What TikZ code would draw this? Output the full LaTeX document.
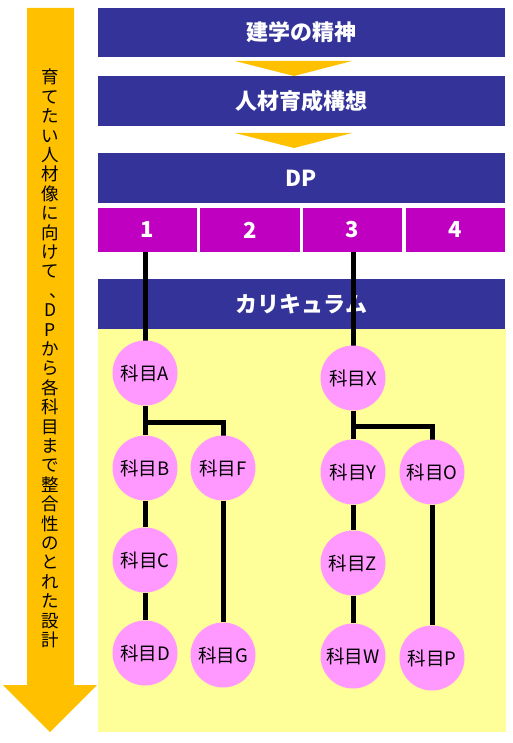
\documentclass[tikz,border=0pt]{standalone}
\usepackage{fontspec}
\newfontfamily\jp{Noto Sans CJK JP}
\definecolor{dblue}{HTML}{333399}
\definecolor{dpurple}{HTML}{C000C0}
\definecolor{lyellow}{HTML}{FFFF99}
\definecolor{pink}{HTML}{FF99FF}
\definecolor{orng}{HTML}{FFC000}
\pgfdeclarelayer{back}
\pgfdeclarelayer{lines}
\pgfsetlayers{back,lines,main}
\begin{document}
\begin{tikzpicture}[x=1pt,y=-1pt,
  bandbox/.style={rectangle,fill=dblue,draw=none,inner sep=0pt,minimum width=407pt,minimum height=49.5pt,text=white,font=\jp\bfseries\fontsize{22}{26}\selectfont},
  cellbox/.style={rectangle,fill=dpurple,draw=none,inner sep=0pt,minimum width=99.5pt,minimum height=44pt,text=white,font=\jp\bfseries\fontsize{22}{26}\selectfont},
  subj/.style={circle,fill=pink,draw=none,minimum size=65pt,inner sep=0pt,font=\jp\fontsize{18.5}{20}\selectfont,text=black},
  link/.style={line width=5pt,black,line join=miter},
  chev/.style={fill=orng,draw=none}]
\useasboundingbox (0,0) rectangle (513,743);
\begin{pgfonlayer}{back}
% left arrow
\fill[orng] (27,8) -- (74,8) -- (74,685) -- (97,685) -- (50,732) -- (3,685) -- (27,685) -- cycle;
% top boxes
\node[bandbox] (b1) at (301.5,32.5) {建学の精神};
\fill[chev] (235,61) -- (352,61) -- (294,76) -- cycle;
\node[bandbox] (b2) at (301.5,101) {人材育成構想};
\fill[chev] (235,133) -- (352,133) -- (294,148) -- cycle;
\node[bandbox] (dp) at (301.5,178) {DP};
\node[cellbox] (c1) at (147.5,230) {1};
\node[cellbox] (c2) at (250,230) {2};
\node[cellbox] (c3) at (352.5,230) {3};
\node[cellbox] (c4) at (455.5,230) {4};
\fill[lyellow] (98,329) rectangle (506,732);
\node[bandbox] (cur) at (301.5,304) {カリキュラム};
\end{pgfonlayer}
\node[align=center,inner sep=0pt,font=\jp\fontsize{17.5}{19.4}\selectfont] (vtext) at (50.5,358.5)
  {育\\て\\た\\い\\人\\材\\像\\に\\向\\け\\て\\\hspace*{0.9em}、\\D\\P\\か\\ら\\各\\科\\目\\ま\\で\\整\\合\\性\\の\\と\\れ\\た\\設\\計};
% subject nodes
\node[subj] (A) at (145,373) {科目A};
\node[subj] (B) at (145,468) {科目B};
\node[subj] (F) at (223,468) {科目F};
\node[subj] (C) at (145,560) {科目C};
\node[subj] (D) at (145,653) {科目D};
\node[subj] (G) at (223,655) {科目G};
\node[subj] (X) at (353,378) {科目X};
\node[subj] (Y) at (353,472) {科目Y};
\node[subj] (O) at (432,472) {科目O};
\node[subj] (Z) at (353,563) {科目Z};
\node[subj] (W) at (353,656) {科目W};
\node[subj] (P) at (432,658) {科目P};
\coordinate (ja) at (145,422);
\coordinate (jx) at (353,426);
\begin{pgfonlayer}{lines}
\draw[link] (A.north |- c1.south) -- (A.center);
\draw[link] (X.north |- c3.south) -- (X.center);
\draw[link] (A) -- (B);
\draw[link] (ja) -| (F.center);
\draw[link] (B) -- (C);
\draw[link] (C) -- (D);
\draw[link] (F) -- (G);
\draw[link] (X) -- (Y);
\draw[link] (jx) -| (O.center);
\draw[link] (Y) -- (Z);
\draw[link] (Z) -- (W);
\draw[link] (O) -- (P);
\end{pgfonlayer}
\end{tikzpicture}
\end{document}
